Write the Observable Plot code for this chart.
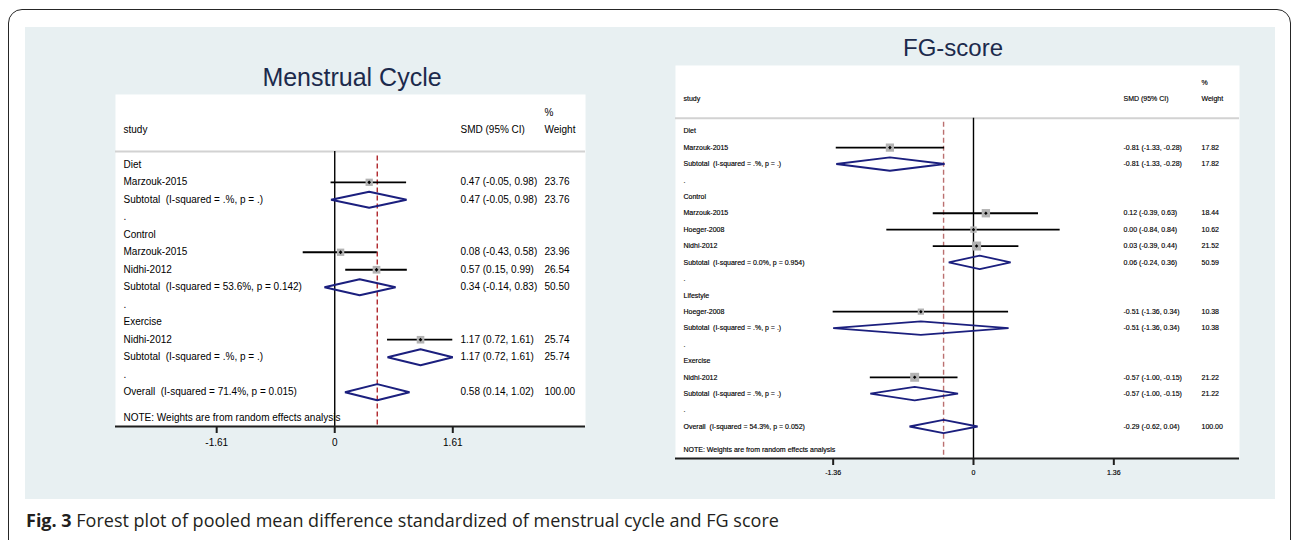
<!DOCTYPE html>
<html>
<head>
<meta charset="utf-8">
<script src="https://cdn.jsdelivr.net/npm/d3@7"></script>
<script src="https://cdn.jsdelivr.net/npm/@observablehq/plot@0.6"></script>
<style>
  html, body { margin: 0; padding: 0; background: #fff; }
  #page { position: relative; width: 1292px; height: 540px; overflow: hidden; font-family: Arial, "Liberation Sans", Helvetica, sans-serif; }
  #border { position: absolute; left: 8px; top: 9px; width: 1283px; height: 545px; box-sizing: border-box; border: 1.5px solid #262626; border-radius: 14px; }
  #panel { position: absolute; left: 25px; top: 27px; width: 1250px; height: 472px; background: #e8f0f2; }
  .title { position: absolute; text-align: center; font-size: 25px; line-height: 25px; color: #1c2a4c; white-space: nowrap; }
  .plot { position: absolute; }
  .plot svg text { white-space: pre; }
  #fg svg text { stroke: #000; stroke-width: 0.15px; }
  #caption { position: absolute; left: 26px; top: 511px; font-family: "Open Sans", sans-serif; font-size: 18px; line-height: 18px; color: #231f20; white-space: nowrap; }
  #caption b { font-weight: 700; }
</style>
</head>
<body>
<div id="page">
  <div id="border"></div>
  <div id="panel"></div>
  <div class="title" style="left:117px; top:65px; width:470px;">Menstrual Cycle</div>
  <div class="title" style="left:671px; top:35px; width:564px; font-size:24px;">FG-score</div>
  <div class="plot" id="mc" style="left:115px; top:94px;"></div>
  <div class="plot" id="fg" style="left:675px; top:65px;"></div>
  <div id="caption"><b>Fig. 3</b> Forest plot of pooled mean difference standardized of menstrual cycle and FG score</div>
</div>
<script>
// ---- Menstrual cycle: standardized mean differences by intervention subgroup ----
const mcLabels = [
  "Diet", "Marzouk-2015", "Subtotal  (I-squared = .%, p = .)", ".",
  "Control", "Marzouk-2015", "Nidhi-2012", "Subtotal  (I-squared = 53.6%, p = 0.142)", ".",
  "Exercise", "Nidhi-2012", "Subtotal  (I-squared = .%, p = .)", ".",
  "Overall  (I-squared = 71.4%, p = 0.015)"
];
const mcKinds = ["group", "study", "subtotal", "gap", "group", "study", "study", "subtotal", "gap", "group", "study", "subtotal", "gap", "overall"];
const mcSMD    = [null, 0.47, 0.47, null, null, 0.08, 0.57, 0.34, null, null, 1.17, 1.17, null, 0.58];
const mcLower  = [null, -0.05, -0.05, null, null, -0.43, 0.15, -0.14, null, null, 0.72, 0.72, null, 0.14];
const mcUpper  = [null, 0.98, 0.98, null, null, 0.58, 0.99, 0.83, null, null, 1.61, 1.61, null, 1.02];
const mcWeight = [null, 23.76, 23.76, null, null, 23.96, 26.54, 50.50, null, null, 25.74, 25.74, null, 100.00];
const mcTicks  = [-1.61, 0, 1.61];

// ---- FG score: standardized mean differences by intervention subgroup ----
const fgLabels = [
  "Diet", "Marzouk-2015", "Subtotal  (I-squared = .%, p = .)", ".",
  "Control", "Marzouk-2015", "Hoeger-2008", "Nidhi-2012", "Subtotal  (I-squared = 0.0%, p = 0.954)", ".",
  "Lifestyle", "Hoeger-2008", "Subtotal  (I-squared = .%, p = .)", ".",
  "Exercise", "Nidhi-2012", "Subtotal  (I-squared = .%, p = .)", ".",
  "Overall  (I-squared = 54.3%, p = 0.052)"
];
const fgKinds = ["group", "study", "subtotal", "gap", "group", "study", "study", "study", "subtotal", "gap", "group", "study", "subtotal", "gap", "group", "study", "subtotal", "gap", "overall"];
const fgSMD    = [null, -0.81, -0.81, null, null, 0.12, 0.00, 0.03, 0.06, null, null, -0.51, -0.51, null, null, -0.57, -0.57, null, -0.29];
const fgLower  = [null, -1.33, -1.33, null, null, -0.39, -0.84, -0.39, -0.24, null, null, -1.36, -1.36, null, null, -1.00, -1.00, null, -0.62];
const fgUpper  = [null, -0.28, -0.28, null, null, 0.63, 0.84, 0.44, 0.36, null, null, 0.34, 0.34, null, null, -0.15, -0.15, null, 0.04];
const fgWeight = [null, 17.82, 17.82, null, null, 18.44, 10.62, 21.52, 50.59, null, null, 10.38, 10.38, null, null, 21.22, 21.22, null, 100.00];
const fgTicks  = [-1.36, 0, 1.36];

const NAVY = "#1b1f7e";
const fmt = (v) => v.toFixed(2);

function forestPlot(p) {
  const n = p.labels.length;
  const rows = p.labels.map((label, i) => ({
    row: i, label, kind: p.kinds[i], est: p.smd[i], lo: p.lower[i], hi: p.upper[i], w: p.weight[i]
  }));
  const studies = rows.filter((d) => d.kind === "study");
  const pooled = rows.filter((d) => d.kind === "subtotal" || d.kind === "overall");
  const estimated = rows.filter((d) => d.est != null);
  const overall = rows.find((d) => d.kind === "overall");

  // row index of the frame's bottom edge (where the x axis sits)
  const [r0, r1] = p.yRange;
  const rowPx = (r1 - r0) / (n - 1);
  const bottomRow = (p.height - p.marginBottom - r0) / rowPx;

  // pooled estimates as diamonds spanning the confidence interval
  const diamonds = pooled.flatMap((d) => [
    {id: d.row, x: d.lo, y: d.row},
    {id: d.row, x: d.est, y: d.row - p.diamond},
    {id: d.row, x: d.hi, y: d.row},
    {id: d.row, x: d.est, y: d.row + p.diamond}
  ]);

  const col = (dx) => ({frameAnchor: "left", dx, textAnchor: "start", fill: "#000"});

  return Plot.plot({
    width: p.width,
    height: p.height,
    marginTop: 0, marginRight: 0, marginLeft: 0, marginBottom: p.marginBottom,
    x: {domain: p.xDomain},
    y: {domain: [0, n - 1], range: p.yRange, axis: null},
    r: {type: "sqrt", domain: [0, d3.max(studies, (d) => d.w)], range: [0, p.boxR]},
    style: {
      fontFamily: "Arial, 'Liberation Sans', Helvetica, sans-serif",
      fontSize: p.fontSize + "px",
      background: "transparent",
      overflow: "visible",
      color: "#000"
    },
    marks: [
      Plot.frame({fill: "#fff", stroke: "none"}),
      Plot.ruleY([p.header.rule], {stroke: "#d2d2d2", strokeWidth: 2}),
      Plot.ruleX([0], {y1: p.header.rule, y2: bottomRow, stroke: "#000", strokeWidth: 1.4}),
      Plot.ruleX([overall.est], {y1: p.header.rule + 0.25, y2: bottomRow, stroke: p.refColor, strokeWidth: 1.4, strokeDasharray: "5,3"}),
      Plot.ruleY(studies, {y: "row", x1: "lo", x2: "hi", stroke: "#000", strokeWidth: p.ciWidth}),
      Plot.dot(studies, {x: "est", y: "row", r: "w", symbol: "square", fill: "#b3b3b3", stroke: "none"}),
      Plot.dot(studies, {x: "est", y: "row", r: p.markR, symbol: "diamond2", fill: "#000", stroke: "none"}),
      Plot.line(diamonds, {x: "x", y: "y", z: "id", curve: "linear-closed", stroke: NAVY, strokeWidth: p.diamondWidth, strokeLinejoin: "miter"}),
      Plot.text(rows, {y: "row", text: "label", ...col(p.cols.label)}),
      Plot.text(estimated, {y: "row", text: (d) => `${fmt(d.est)} (${fmt(d.lo)}, ${fmt(d.hi)})`, ...col(p.cols.smd)}),
      Plot.text(estimated, {y: "row", text: (d) => fmt(d.w), ...col(p.cols.weight)}),
      Plot.text(["study"], {y: p.header.title, text: (d) => d, ...col(p.cols.label)}),
      Plot.text(["SMD (95% CI)"], {y: p.header.title, text: (d) => d, ...col(p.cols.smd)}),
      Plot.text(["Weight"], {y: p.header.title, text: (d) => d, ...col(p.cols.weight)}),
      Plot.text(["%"], {y: p.header.pct, text: (d) => d, ...col(p.cols.weight)}),
      Plot.text(["NOTE: Weights are from random effects analysis"], {y: p.header.note, text: (d) => d, ...col(p.cols.label)}),
      Plot.ruleY([bottomRow], {stroke: "#1e1e1e", strokeWidth: 2}),
      Plot.axisX({
        ticks: p.ticks,
        tickFormat: (d) => (d === 0 ? "0" : d.toFixed(2)),
        tickSize: 7,
        tickPadding: p.tickPadding,
        strokeWidth: 2,
        stroke: "#1e1e1e",
        fill: "#000",
        fontSize: p.fontSize,
        label: null
      })
    ]
  });
}

document.getElementById("mc").append(forestPlot({
  labels: mcLabels, kinds: mcKinds, smd: mcSMD, lower: mcLower, upper: mcUpper, weight: mcWeight, ticks: mcTicks,
  width: 470, height: 362, marginBottom: 30,
  xDomain: [-2.99, 3.42],
  yRange: [70.3, 297.7],
  header: {pct: -2.95, title: -2.0, rule: -0.76, note: 14.47},
  cols: {label: 8, smd: 345, weight: 429},
  fontSize: 10, tickPadding: 5,
  boxR: 4.35, markR: 1.7, ciWidth: 1.8, diamond: 0.46, diamondWidth: 2,
  refColor: "#b0262b"
}));

document.getElementById("fg").append(forestPlot({
  labels: fgLabels, kinds: fgKinds, smd: fgSMD, lower: fgLower, upper: fgUpper, weight: fgWeight, ticks: fgTicks,
  width: 564, height: 421, marginBottom: 28,
  xDomain: [-2.888, 2.578],
  yRange: [65.7, 361],
  header: {pct: -2.97, title: -1.99, rule: -0.79, note: 19.4},
  cols: {label: 8, smd: 448, weight: 526},
  fontSize: 7, tickPadding: 4.5,
  boxR: 5.1, markR: 1.6, ciWidth: 1.8, diamond: 0.41, diamondWidth: 1.8,
  refColor: "#bb7070"
}));
</script>
</body>
</html>
